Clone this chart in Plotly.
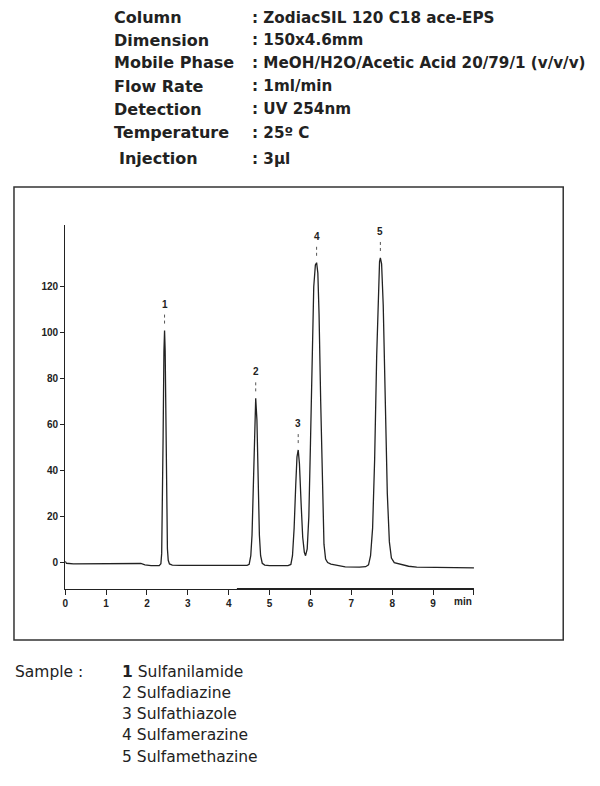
"""
Chromatogram of five sulfonamides on ZodiacSIL 120 C18 ace-EPS
"""
import plotly.graph_objects as go

# ---- data ----
time_min = [
    0.00, 0.03, 0.20, 1.00, 1.70, 1.85, 1.95, 2.10, 2.30,
    2.34, 2.36, 2.38, 2.395, 2.415, 2.43, 2.445, 2.465, 2.48, 2.50, 2.52, 2.55, 2.62, 2.80,
    3.50, 4.45,
    4.50, 4.54, 4.57, 4.60, 4.63, 4.66, 4.69, 4.72, 4.75, 4.78, 4.82, 4.88, 5.00, 5.45,
    5.52, 5.56, 5.60, 5.64, 5.67, 5.70, 5.73, 5.77, 5.81, 5.85, 5.88,
    5.92, 5.96, 6.00, 6.04, 6.08, 6.12, 6.15, 6.18, 6.21, 6.25, 6.29, 6.33, 6.37, 6.42,
    6.50, 6.70, 6.85, 7.20, 7.35,
    7.42, 7.47, 7.52, 7.57, 7.62, 7.66, 7.69, 7.71, 7.74, 7.78, 7.83, 7.88, 7.93, 7.98,
    8.05, 8.20, 8.40, 8.60, 10.00,
]
signal = [
    0.5, -0.3, -0.6, -0.6, -0.6, -0.4, -1.0, -1.3, -1.3,
    -0.5, 4, 25, 55, 92, 101, 92, 55, 25, 6, 1, -0.6, -1.1, -1.2,
    -1.2, -1.2,
    -0.8, 3, 12, 35, 62, 71.5, 62, 35, 12, 3, -0.3, -1.1, -1.3, -1.3,
    -0.8, 3, 15, 34, 46, 49, 43, 26, 11, 4.5, 3,
    6, 20, 52, 90, 120, 129.5, 130.5, 126, 108, 70, 30, 8, 1.5, 0,
    -0.7, -1.3, -1.9, -2.0, -1.8,
    -1, 3, 15, 45, 90, 120, 131, 132.6, 130, 112, 70, 30, 9, 2,
    0, -0.8, -1.6, -2.0, -2.3,
]

peak_ids = ["1", "2", "3", "4", "5"]
peak_times = [2.43, 4.66, 5.70, 6.15, 7.71]
peak_heights = [101, 71.5, 49, 130.5, 132.6]

x_ticks = [0, 1, 2, 3, 4, 5, 6, 7, 8, 9, 10]
x_tick_labels = ["0", "1", "2", "3", "4", "5", "6", "7", "8", "9", ""]
y_ticks = [0, 20, 40, 60, 80, 100, 120]

param_labels = ["Column", "Dimension", "Mobile Phase", "Flow Rate",
                "Detection", "Temperature", "Injection"]
param_values = [": ZodiacSIL 120 C18 ace-EPS", ": 150x4.6mm",
                ": MeOH/H2O/Acetic Acid 20/79/1 (v/v/v)", ": 1ml/min",
                ": UV 254nm", ": 25\u00ba C", ": 3\u00b5l"]

sample_names = ["Sulfanilamide", "Sulfadiazine", "Sulfathiazole",
                "Sulfamerazine", "Sulfamethazine"]

# ---- page geometry (pixels of the 600x786 page) ----
W, H = 600, 786
OFF = 8  # the page body adds an 8px margin, so pull everything back by it
TXT_PAD = 3  # annotations sit a few px right of their anchor
INK = "#222222"


def px(x):
    return (x - OFF) / W


def py(y):
    return 1 - (y - OFF) / H


fig = go.Figure()

fig.add_trace(go.Scatter(
    x=time_min, y=signal, mode="lines",
    line=dict(color=INK, width=1.3),
    hoverinfo="skip", showlegend=False,
))

# little dotted markers above each peak
for t, h in zip(peak_times, peak_heights):
    fig.add_trace(go.Scatter(
        x=[t, t], y=[h + 3, h + 7], mode="lines",
        line=dict(color="#555555", width=1, dash="dot"),
        hoverinfo="skip", showlegend=False,
    ))

annotations = []
for pid, t, h in zip(peak_ids, peak_times, peak_heights):
    annotations.append(dict(
        x=t, y=h + 11.5, xref="x", yref="y", text=pid, showarrow=False,
        font=dict(family="Liberation Sans", size=10, color=INK, weight="bold"),
    ))

annotations.append(dict(
    x=9.72, y=-11.5, xref="x", yref="y", text="min", showarrow=False,
    yanchor="top", yshift=-5,
    font=dict(family="Liberation Sans", size=10, color=INK, weight="bold"),
))

# method parameters at the top
row_y = [18, 40, 63, 86, 109, 133, 159]
for i, (lab, val) in enumerate(zip(param_labels, param_values)):
    lx = 118 if lab == "Injection" else 113
    annotations.append(dict(
        x=px(lx - TXT_PAD), y=py(row_y[i]), xref="paper", yref="paper", text=lab,
        showarrow=False, xanchor="left", yanchor="middle",
        font=dict(family="DejaVu Sans", size=16, color=INK, weight="bold"),
    ))
    annotations.append(dict(
        x=px(251 - TXT_PAD), y=py(row_y[i]), xref="paper", yref="paper", text=val,
        showarrow=False, xanchor="left", yanchor="middle",
        font=dict(family="DejaVu Sans", size=15.2, color=INK, weight="bold"),
    ))

# sample list at the bottom
sample_y = [672, 693, 714, 735, 757]
annotations.append(dict(
    x=px(13 - TXT_PAD), y=py(sample_y[0]), xref="paper", yref="paper",
    text="Sample :", showarrow=False, xanchor="left", yanchor="middle",
    font=dict(family="DejaVu Sans", size=15.5, color=INK),
))
for i, name in enumerate(sample_names):
    num = f"<b>{i + 1}</b>" if i == 0 else str(i + 1)
    annotations.append(dict(
        x=px(121 - TXT_PAD), y=py(sample_y[i]), xref="paper", yref="paper",
        text=f"{num} {name}", showarrow=False, xanchor="left", yanchor="middle",
        font=dict(family="DejaVu Sans", size=15.5, color=INK),
    ))

shapes = [
    # frame round the chromatogram
    dict(type="rect", xref="paper", yref="paper",
         x0=px(11), x1=px(563), y0=py(640), y1=py(187),
         line=dict(color="#333333", width=1.5)),
    # heavier stretch of the time axis
    dict(type="line", xref="x", yref="y", x0=4.2, x1=10, y0=-11.5, y1=-11.5,
         line=dict(color=INK, width=2)),
]

fig.update_layout(
    width=W, height=H,
    margin=dict(l=0, r=0, t=0, b=0),
    paper_bgcolor="white", plot_bgcolor="white",
    annotations=annotations, shapes=shapes,
    showlegend=False,
)

tick_font = dict(family="Liberation Sans", size=10, color=INK, weight="bold")

fig.update_xaxes(
    domain=[px(62.5), px(473.3)], range=[0, 10],
    tickvals=x_ticks, ticktext=x_tick_labels,
    showline=True, linecolor=INK, linewidth=1.3,
    ticks="outside", ticklen=5, tickcolor=INK, tickwidth=1.3,
    showgrid=False, zeroline=False,
    tickfont=tick_font,
)
fig.update_yaxes(
    domain=[py(589), py(225)], range=[-11.5, 146.9],
    tickvals=y_ticks,
    showline=True, linecolor=INK, linewidth=1.3,
    ticks="outside", ticklen=4, tickcolor=INK, tickwidth=1.3,
    showgrid=False, zeroline=False,
    tickfont=tick_font,
)

fig.write_html("out.html")
